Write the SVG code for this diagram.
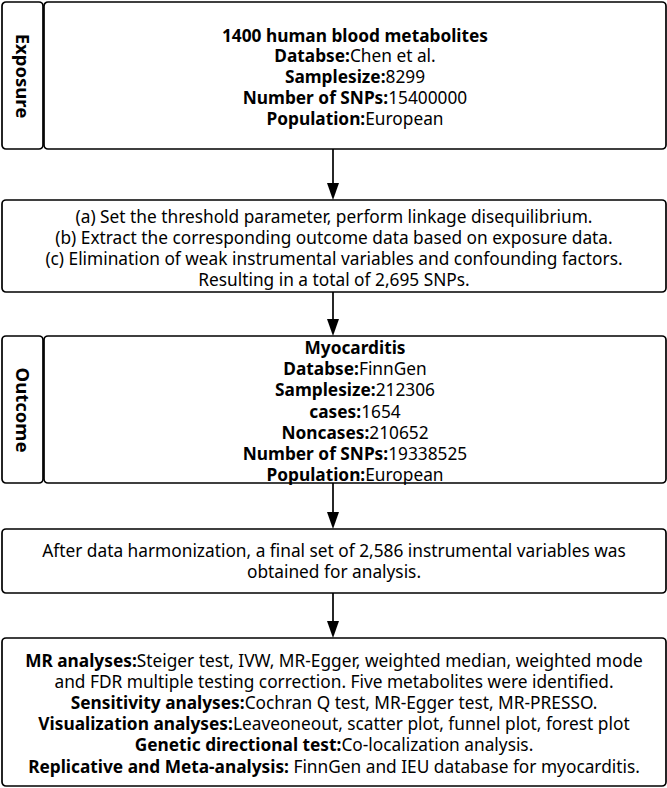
<svg xmlns="http://www.w3.org/2000/svg" width="667" height="788" viewBox="0 0 667 788">
<style>
.box{fill:#fff;stroke:#000;stroke-width:1.7}
.t{font-family:"Noto Sans","Open Sans","Liberation Sans",sans-serif;font-size:17.3px;fill:#000;text-anchor:middle}
.b{font-weight:bold}
.side{font-family:"Noto Sans","Open Sans","Liberation Sans",sans-serif;font-size:18.5px;font-weight:bold;fill:#000;text-anchor:middle}
.c{stroke:#000;stroke-width:1.7;fill:none}
.ah{fill:#000}
</style>
<rect width="667" height="788" fill="#fff"/>
<g id="connectors">
<path class="c" d="M333,149 V184"/><path class="ah" d="M327,183 L339,183 L333,200 Z"/>
<path class="c" d="M333,292 V320"/><path class="ah" d="M327,319 L339,319 L333,336 Z"/>
<path class="c" d="M333,483 V513"/><path class="ah" d="M327,512 L339,512 L333,529 Z"/>
<path class="c" d="M333,593 V622"/><path class="ah" d="M327,621 L339,621 L333,638 Z"/>
</g>
<g id="exposure-label">
<rect class="box" x="2" y="2" width="41" height="147" rx="4"/>
<text class="side" transform="translate(22.5,76) rotate(90)" y="6.5">Exposure</text>
</g>
<g id="exposure">
<rect class="box" x="44" y="2" width="622" height="147" rx="4"/>
<text class="t b" x="355" y="41.5">1400 human blood metabolites</text>
<text class="t" x="355" y="62.2"><tspan class="b">Databse:</tspan>Chen et al.</text>
<text class="t" x="355" y="83"><tspan class="b">Samplesize:</tspan>8299</text>
<text class="t" x="355" y="103.7"><tspan class="b">Number of SNPs:</tspan>15400000</text>
<text class="t" x="355" y="124.5"><tspan class="b">Population:</tspan>European</text>
</g>
<g id="selection">
<rect class="box" x="2" y="200" width="664" height="92" rx="4"/>
<text class="t" x="334" y="223">(a) Set the threshold parameter, perform linkage disequilibrium.</text>
<text class="t" x="334" y="244">(b) Extract the corresponding outcome data based on exposure data.</text>
<text class="t" x="334" y="265">(c) Elimination of weak instrumental variables and confounding factors.</text>
<text class="t" x="334" y="286">Resulting in a total of 2,695 SNPs.</text>
</g>
<g id="outcome-label">
<rect class="box" x="2" y="336" width="41" height="147" rx="4"/>
<text class="side" transform="translate(22.5,410) rotate(90)" y="6.5">Outcome</text>
</g>
<g id="outcome">
<rect class="box" x="44" y="336" width="622" height="147" rx="4"/>
<text class="t b" x="355" y="354">Myocarditis</text>
<text class="t" x="355" y="375.2"><tspan class="b">Databse:</tspan>FinnGen</text>
<text class="t" x="355" y="396.3"><tspan class="b">Samplesize:</tspan>212306</text>
<text class="t" x="355" y="417.5"><tspan class="b">cases:</tspan>1654</text>
<text class="t" x="355" y="438.7"><tspan class="b">Noncases:</tspan>210652</text>
<text class="t" x="355" y="459.8"><tspan class="b">Number of SNPs:</tspan>19338525</text>
<text class="t" x="355" y="481"><tspan class="b">Population:</tspan>European</text>
</g>
<g id="harmonization">
<rect class="box" x="2" y="529" width="664" height="64" rx="4"/>
<text class="t" x="334" y="557">After data harmonization, a final set of 2,586 instrumental variables was</text>
<text class="t" x="334" y="578">obtained for analysis.</text>
</g>
<g id="analyses">
<rect class="box" x="2" y="638" width="664" height="148" rx="4"/>
<text class="t" x="334" y="667"><tspan class="b">MR analyses:</tspan>Steiger test, IVW, MR-Egger, weighted median, weighted mode</text>
<text class="t" x="334" y="688">and FDR multiple testing correction. Five metabolites were identified.</text>
<text class="t" x="334" y="709"><tspan class="b">Sensitivity analyses:</tspan>Cochran Q test, MR-Egger test, MR-PRESSO.</text>
<text class="t" x="334" y="730"><tspan class="b">Visualization analyses:</tspan>Leaveoneout, scatter plot, funnel plot, forest plot</text>
<text class="t" x="334" y="751"><tspan class="b">Genetic directional test:</tspan>Co-localization analysis.</text>
<text class="t" x="334" y="773"><tspan class="b">Replicative and Meta-analysis:</tspan> FinnGen and IEU database for myocarditis.</text>
</g>
</svg>
